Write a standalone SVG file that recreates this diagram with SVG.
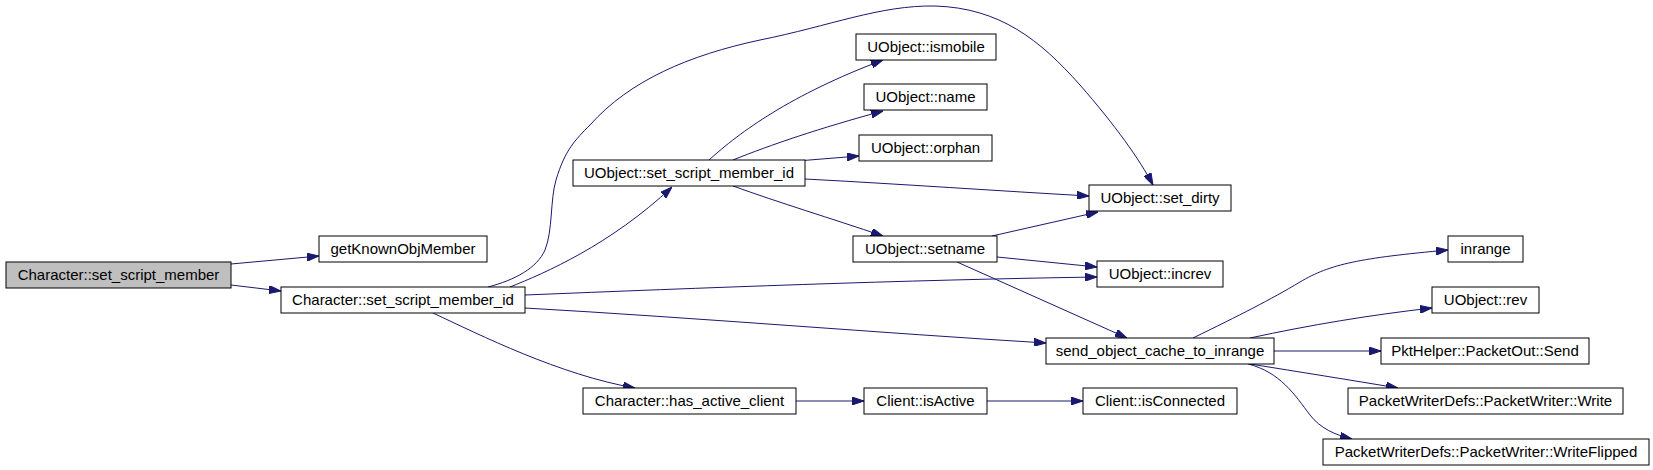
<svg xmlns="http://www.w3.org/2000/svg" width="1653" height="470" viewBox="0 0 1653 470">
<style>
.node rect{fill:#ffffff;stroke:#000000;stroke-width:1}
.node.root rect{fill:#bfbfbf}
.node text{font-family:"Liberation Sans",Arial,sans-serif;font-size:15px;fill:#000000;text-anchor:middle}
.edge{fill:none;stroke:#191970;stroke-width:1;marker-end:url(#arr)}
</style>
<defs>
<marker id="arr" viewBox="0 0 12 8" refX="12" refY="4" markerWidth="12" markerHeight="8" markerUnits="userSpaceOnUse" orient="auto">
<path d="M0,0 L12,4 L0,8 z" fill="#191970" stroke="#191970" stroke-width="1"/>
</marker>
</defs>
<rect width="1653" height="470" fill="#ffffff"/>
<g id="edges">
<path class="edge" d="M231,264 L319,256"/>
<path class="edge" d="M231,285 L281,291"/>
<path class="edge" d="M510,287 C545,273 610,245 672,187"/>
<path class="edge" d="M488,287 C515,280 537,268 545,250 C553,230 550,200 556,180 C565,150 575,140 590,125 C630,80 690,55 760,40 C830,26 880,5 935,6 C1000,8 1040,40 1080,85 C1115,125 1140,160 1153,185"/>
<path class="edge" d="M709,160 C740,132 790,95 883,60"/>
<path class="edge" d="M733,160 C770,145 820,128 883,111"/>
<path class="edge" d="M797,161 L859,156"/>
<path class="edge" d="M805,179 C900,184 1000,191 1089,196"/>
<path class="edge" d="M733,186 C780,203 830,218 883,236"/>
<path class="edge" d="M992,236 L1098,212"/>
<path class="edge" d="M997,257 L1097,267"/>
<path class="edge" d="M525,295 C700,288 900,280 1097,277"/>
<path class="edge" d="M525,308 C700,318 880,333 1046,343"/>
<path class="edge" d="M957,262 L1127,338"/>
<path class="edge" d="M433,313 C480,335 560,375 635,388"/>
<path class="edge" d="M796,401 L864,401"/>
<path class="edge" d="M987,401 L1083,401"/>
<path class="edge" d="M1193,338 C1240,315 1270,300 1300,282 C1330,264 1360,258 1448,250"/>
<path class="edge" d="M1250,338 C1310,325 1370,315 1432,308"/>
<path class="edge" d="M1274,351 L1381,351"/>
<path class="edge" d="M1250,364 C1300,372 1350,380 1398,388"/>
<path class="edge" d="M1248,364 C1280,372 1295,395 1310,415 C1320,428 1335,435 1352,439"/>
</g>
<g id="n0" class="node root"><rect x="6" y="262" width="225" height="26"/><text x="118.5" y="280">Character::set_script_member</text></g>
<g id="n1" class="node"><rect x="319" y="236" width="168" height="26"/><text x="403" y="254">getKnownObjMember</text></g>
<g id="n2" class="node"><rect x="281" y="287" width="244" height="26"/><text x="403" y="305">Character::set_script_member_id</text></g>
<g id="n3" class="node"><rect x="573" y="160" width="232" height="26"/><text x="689" y="178">UObject::set_script_member_id</text></g>
<g id="n4" class="node"><rect x="856" y="34" width="140" height="26"/><text x="926" y="52">UObject::ismobile</text></g>
<g id="n5" class="node"><rect x="864" y="84" width="123" height="26"/><text x="925.5" y="102">UObject::name</text></g>
<g id="n6" class="node"><rect x="859" y="135" width="133" height="26"/><text x="925.5" y="153">UObject::orphan</text></g>
<g id="n7" class="node"><rect x="1089" y="185" width="142" height="26"/><text x="1160" y="203">UObject::set_dirty</text></g>
<g id="n8" class="node"><rect x="853" y="236" width="144" height="26"/><text x="925" y="254">UObject::setname</text></g>
<g id="n9" class="node"><rect x="1097" y="261" width="126" height="26"/><text x="1160" y="279">UObject::increv</text></g>
<g id="n10" class="node"><rect x="1046" y="338" width="228" height="26"/><text x="1160" y="356">send_object_cache_to_inrange</text></g>
<g id="n11" class="node"><rect x="1448" y="236" width="75" height="26"/><text x="1485.5" y="254">inrange</text></g>
<g id="n12" class="node"><rect x="1432" y="287" width="107" height="26"/><text x="1485.5" y="305">UObject::rev</text></g>
<g id="n13" class="node"><rect x="1381" y="338" width="208" height="26"/><text x="1485" y="356">PktHelper::PacketOut::Send</text></g>
<g id="n14" class="node"><rect x="1348" y="388" width="275" height="26"/><text x="1485.5" y="406">PacketWriterDefs::PacketWriter::Write</text></g>
<g id="n15" class="node"><rect x="1323" y="439" width="326" height="26"/><text x="1486" y="457">PacketWriterDefs::PacketWriter::WriteFlipped</text></g>
<g id="n16" class="node"><rect x="583" y="388" width="213" height="26"/><text x="689.5" y="406">Character::has_active_client</text></g>
<g id="n17" class="node"><rect x="864" y="388" width="123" height="26"/><text x="925.5" y="406">Client::isActive</text></g>
<g id="n18" class="node"><rect x="1083" y="388" width="154" height="26"/><text x="1160" y="406">Client::isConnected</text></g>
</svg>
